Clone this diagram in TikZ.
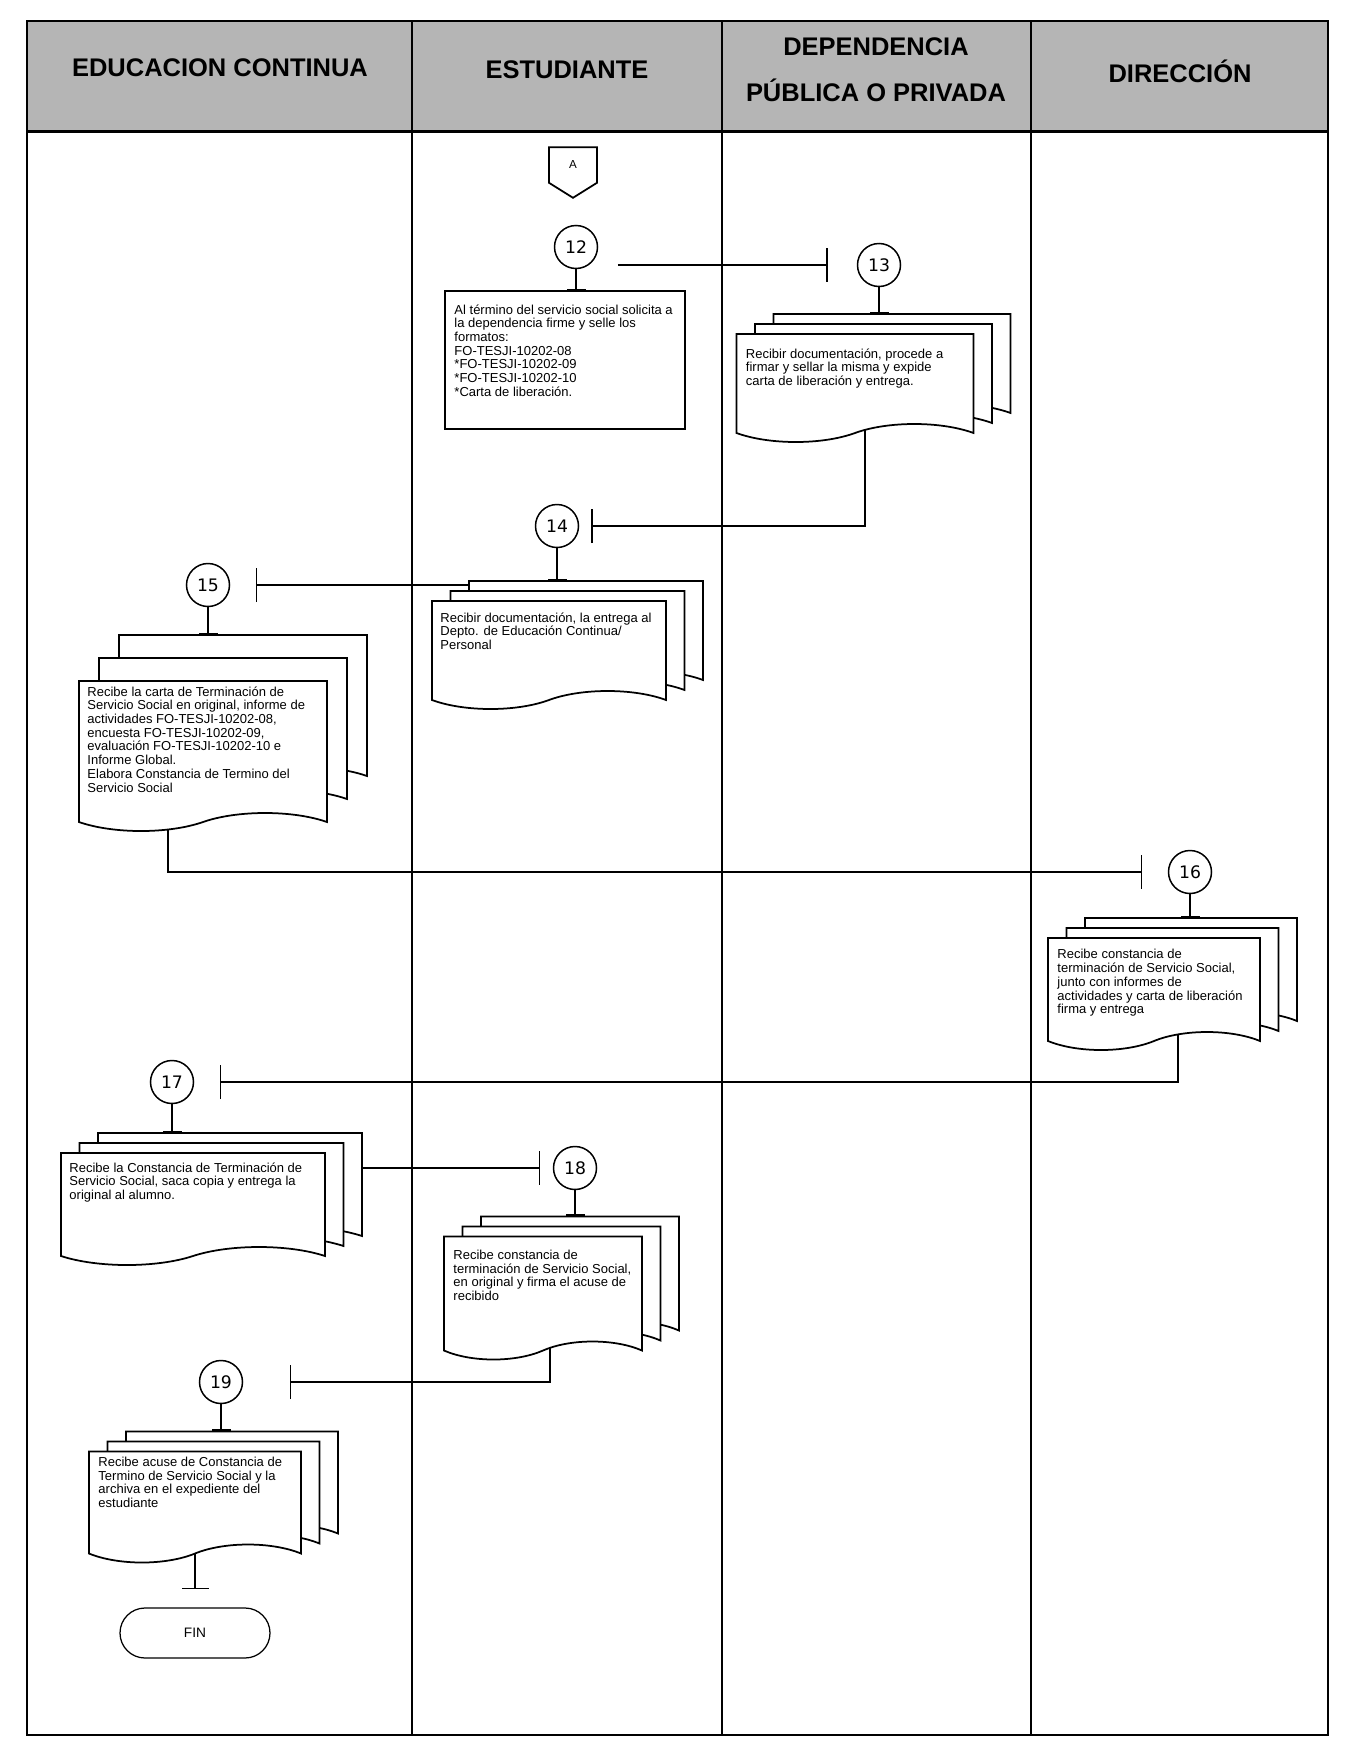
\documentclass[tikz,border=0pt]{standalone}
\usepackage{fontspec}
\setmainfont{Liberation Sans}
\newfontfamily\numfont{DejaVu Sans}
\usepackage{tikz}
\usetikzlibrary{positioning, arrows.meta, shapes.symbols, shadows, backgrounds, calc}
\usepackage{xcolor}
\definecolor{HeaderGray}{HTML}{B5B5B5}

\tikzset{
  lane/.style={line width=0.3mm},
  lanehead/.style={font=\fontsize{14.5}{26}\selectfont\bfseries, align=center},
  stepnum/.style={circle, draw, fill=white, line width=0.3mm, minimum size=8.6mm,
                  inner sep=0pt, font=\numfont\fontsize{9.8}{10}\selectfont},
  taskbox/.style={rectangle, draw, fill=white, line width=0.35mm},
  docpage/.style={tape, tape bend top=none, tape bend bottom=in and out,
                  tape bend height=3.6mm, draw, fill=white, line width=0.35mm, inner sep=0pt},
  docstack/.style={docpage,
    copy shadow={shadow xshift=7.4mm, shadow yshift=4mm, draw, fill=white},
    copy shadow={shadow xshift=3.7mm, shadow yshift=2mm, draw, fill=white}},
  tallstack/.style={docpage,
    copy shadow={shadow xshift=8mm, shadow yshift=9.2mm, draw, fill=white},
    copy shadow={shadow xshift=4mm, shadow yshift=4.6mm, draw, fill=white}},
  doctext/.style={anchor=north west, align=left, inner sep=0pt,
                  font=\fontsize{7.4}{7.8}\selectfont},
  flow/.style={line width=0.3mm, -{Bar[width=6.8mm]}},
  stemline/.style={line width=0.3mm, -{Bar[width=3.8mm]}},
}

\begin{document}
\begin{tikzpicture}[x=0.2mm, y=-0.2mm]
\useasboundingbox (0,0) rectangle (1351,1750);
\begin{pgfonlayer}{background}
  \fill[white] (0,0) rectangle (1351,1750);
\end{pgfonlayer}

% lanes
\fill[HeaderGray] (27,21) rectangle (1328,131);
\draw[lane] (27,21) rectangle (1328,1735);
\draw[line width=0.6mm] (27,131) -- (1328,131);
\foreach \x in {412, 722, 1031}
  \draw[lane] (\x,21) -- (\x,1735);

\node[lanehead] (hEdu) at (220,68) {EDUCACION CONTINUA};
\node[lanehead] (hEst) at (567,70) {ESTUDIANTE};
\node[lanehead] (hDep) at (876,70) {DEPENDENCIA\\PÚBLICA O PRIVADA};
\node[lanehead] (hDir) at (1180,71) {DIRECCIÓN};

% off-page connector
\node[signal, signal to=south, signal pointer angle=116, draw, fill=white,
      line width=0.35mm, minimum width=9.6mm, minimum height=7.6mm, inner sep=0pt,
      font=\fontsize{6.6}{7}\selectfont] (offA) at (573,165) {A};

% steps
\node[stepnum] (c12) at (576,247) {12};
\node[taskbox, minimum width=48mm, minimum height=27.6mm] (b12) at (565,360) {};
\node[doctext] (t12) at ([shift={(10,14)}]b12.north west)
  {Al término del servicio social solicita a\\la dependencia firme y selle los\\formatos:\\FO-TESJI-10202-08\\*FO-TESJI-10202-09\\*FO-TESJI-10202-10\\*Carta de liberación.};

\node[stepnum] (c13) at (879,265) {13};
\node[docstack, minimum width=47.4mm, minimum height=21.6mm] (b13) at (855,379) {};
\node[doctext] (t13) at ([shift={(10,15)}]b13.north west)
  {Recibir documentación, procede a\\firmar y sellar la misma y expide\\carta de liberación y entrega.};

\node[stepnum] (c14) at (557,526) {14};
\node[docstack, minimum width=46.8mm, minimum height=21.6mm] (b14) at (549,646) {};
\node[doctext] (t14) at ([shift={(9,12)}]b14.north west)
  {Recibir documentación, la entrega al\\Depto. de Educación Continua/\\Personal};

\node[stepnum] (c15) at (208,585) {15};
\node[tallstack, minimum width=49.6mm, minimum height=30mm] (b15) at (203,747) {};
\node[doctext] (t15) at ([shift={(9,6)}]b15.north west)
  {Recibe la carta de Terminación de\\Servicio Social en original, informe de\\actividades FO-TESJI-10202-08,\\encuesta FO-TESJI-10202-09,\\evaluación FO-TESJI-10202-10 e\\Informe Global.\\Elabora Constancia de Termino del\\Servicio Social};

\node[stepnum] (c16) at (1190,872) {16};
\node[docstack, minimum width=42.4mm, minimum height=22.4mm] (b16) at (1154,985) {};
\node[doctext] (t16) at ([shift={(10,12)}]b16.north west)
  {Recibe constancia de\\terminación de Servicio Social,\\junto con informes de\\actividades y carta de liberación\\firma y entrega};

\node[stepnum] (c17) at (172,1082) {17};
\node[docstack, minimum width=52.8mm, minimum height=22.4mm] (b17) at (193,1200) {};
\node[doctext] (t17) at ([shift={(9,10)}]b17.north west)
  {Recibe la Constancia de Terminación de\\Servicio Social, saca copia y entrega la\\original al alumno.};

\node[stepnum] (c18) at (575,1168) {18};
\node[docstack, minimum width=39.6mm, minimum height=24.6mm] (b18) at (543,1289) {};
\node[doctext] (t18) at ([shift={(10,14)}]b18.north west)
  {Recibe constancia de\\terminación de Servicio Social,\\en original y firma el acuse de\\recibido};

\node[stepnum] (c19) at (221,1382) {19};
\node[docstack, minimum width=42.4mm, minimum height=22.2mm] (b19) at (195,1498) {};
\node[doctext] (t19) at ([shift={(10,6)}]b19.north west)
  {Recibe acuse de Constancia de\\Termino de Servicio Social y la\\archiva en el expediente del\\estudiante};

\node[draw, rounded corners=5mm, minimum width=30mm, minimum height=10mm,
      line width=0.25mm, font=\fontsize{7.8}{8}\selectfont] (fin) at (195,1633) {FIN};

% back sheets of the stacks
\coordinate (b13top) at ([shift={(37,-20)}]b13.north);
\coordinate (b14top) at ([shift={(37,-20)}]b14.north);
\coordinate (b14back) at ([shift={(37,-20)}]b14.north west);
\coordinate (b15top) at ([shift={(40,-46)}]b15.north);
\coordinate (b16top) at ([shift={(37,-20)}]b16.north);
\coordinate (b17top) at ([shift={(37,-20)}]b17.north);
\coordinate (b17back) at ([shift={(37,-20)}]b17.north east);
\coordinate (b18top) at ([shift={(37,-20)}]b18.north);
\coordinate (b19top) at ([shift={(37,-20)}]b19.north);

% stems
\draw[stemline] (c12) -- (c12 |- b12.north);
\draw[stemline] (c13) -- (c13 |- b13top);
\draw[stemline] (c14) -- (c14 |- b14top);
\draw[stemline] (c15) -- (c15 |- b15top);
\draw[stemline] (c16) -- (c16 |- b16top);
\draw[stemline] (c17) -- (c17 |- b17top);
\draw[stemline] (c18) -- (c18 |- b18top);
\draw[stemline] (c19) -- (c19 |- b19top);

% connectors
\begin{pgfonlayer}{background}
  \draw[flow, shorten <=3.9mm, shorten >=5.8mm] (c12.east |- c13) -- (c13);
  \draw[flow, shorten >=2.4mm] ([xshift=2mm]b13.south) |- (c14);
  \draw[flow, shorten >=5.1mm] (b14back |- c15) -- (c15);
  \draw[flow, shorten >=5.1mm] ([xshift=-7mm]b15.south) |- (c16);
  \draw[flow, shorten >=5.1mm] ([xshift=4.8mm]b16.south) |- (c17);
  \draw[flow, shorten >=2.5mm] (b17back |- c18) -- (c18);
  \draw[flow, shorten >=9.3mm] ([xshift=1.4mm]b18.south) |- (c19);
  \draw[line width=0.3mm, -{Bar[width=5.4mm]}, shorten >=3.6mm] (b19.south) -- (fin);
\end{pgfonlayer}
\end{tikzpicture}
\end{document}
